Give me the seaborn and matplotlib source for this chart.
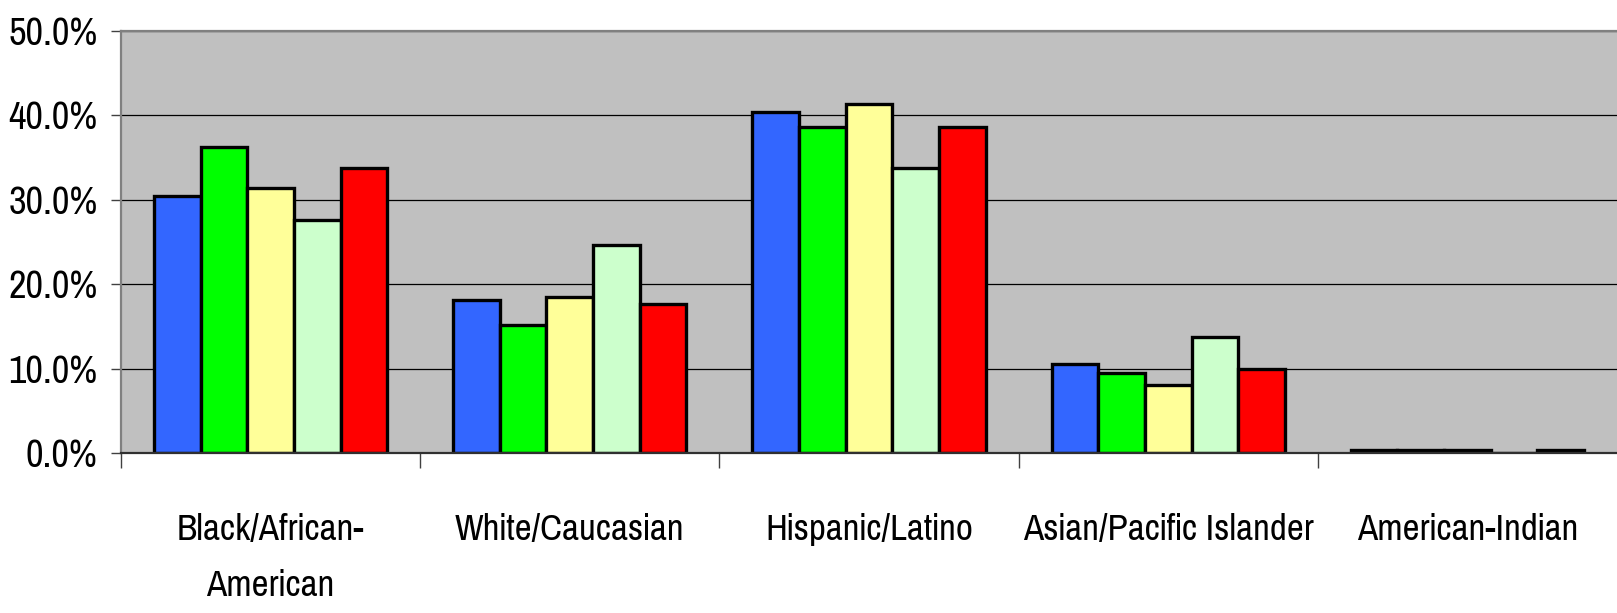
import matplotlib
matplotlib.use("Agg")
import matplotlib.pyplot as plt
from matplotlib.ticker import FixedLocator, PercentFormatter
import pandas as pd
import seaborn as sns

# Share of each group, per series (percent)
categories = ["Black/African-\nAmerican", "White/Caucasian", "Hispanic/Latino",
              "Asian/Pacific Islander", "American-Indian"]
series_names = ["Series 1", "Series 2", "Series 3", "Series 4", "Series 5"]
series_1 = [30.4, 18.1, 40.4, 10.5, 0.4]
series_2 = [36.2, 15.2, 38.6, 9.5, 0.4]
series_3 = [31.4, 18.5, 41.4, 8.1, 0.4]
series_4 = [27.6, 24.7, 33.8, 13.8, 0.0]
series_5 = [33.8, 17.6, 38.6, 10.0, 0.4]
colors = ["#3366FF", "#00FF00", "#FFFF99", "#CCFFCC", "#FF0000"]
y_ticks = [0, 10, 20, 30, 40, 50]

rows = []
for name, vals in zip(series_names,
                      [series_1, series_2, series_3, series_4, series_5]):
    for cat, v in zip(categories, vals):
        rows.append({"group": cat, "series": name, "share": v})
df = pd.DataFrame(rows)

sns.set_style("white")
plt.rcParams["font.family"] = ["Pragati Narrow", "DejaVu Sans"]

fig = plt.figure(figsize=(16.17, 6.13), dpi=100)
ax = fig.add_axes([121 / 1617, 1 - 453 / 613, 1 - 121 / 1617, (453 - 31) / 613])
ax.set_facecolor("#C0C0C0")

sns.barplot(data=df, x="group", y="share", hue="series", order=categories,
            hue_order=series_names, palette=colors, width=0.78, gap=0,
            edgecolor="black", linewidth=2.4, saturation=1, legend=False,
            errorbar=None, ax=ax, zorder=3)

ax.set_xlim(-0.5, 4.5)
ax.set_ylim(0, 50)
ax.set_yticks(y_ticks)
ax.yaxis.set_major_formatter(PercentFormatter(decimals=1))
ax.grid(axis="y", color="black", linewidth=0.9, zorder=1)
ax.set_axisbelow(True)

# category labels at group centres, tick marks at the group boundaries
ax.set_xticks(range(len(categories)))
ax.set_xticklabels(categories, linespacing=1.85)
ax.xaxis.set_minor_locator(FixedLocator([-0.5, 0.5, 1.5, 2.5, 3.5]))
ax.tick_params(axis="x", which="major", length=0, pad=43, labelsize=29,
               labelcolor="black")
ax.tick_params(axis="x", which="minor", length=11, width=1.0, color="#404040",
               bottom=True)
ax.tick_params(axis="y", which="major", length=7, width=1.0, color="#404040",
               left=True, pad=10, labelsize=30, labelcolor="black")

ax.set_xlabel("")
ax.set_ylabel("")

for side in ["top", "left"]:
    ax.spines[side].set_color("#808080")
    ax.spines[side].set_linewidth(1.6)
ax.spines["bottom"].set_color("#303030")
ax.spines["bottom"].set_linewidth(1.6)
ax.spines["right"].set_visible(False)
ax.spines["bottom"].set_zorder(4)

fig.savefig("out.png", dpi=100, facecolor="white")
